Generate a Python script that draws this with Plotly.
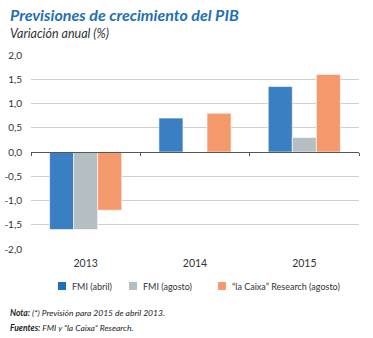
import plotly.graph_objects as go

categories = ["2013", "2014", "2015"]
fmi_abril = [-1.6, 0.7, 1.35]
fmi_agosto = [-1.6, None, 0.3]
caixa_agosto = [-1.2, 0.8, 1.6]
series_names = ["FMI (abril)", "FMI (agosto)", "“la Caixa” Research (agosto)"]
tick_vals = [2.0, 1.5, 1.0, 0.5, 0.0, -0.5, -1.0, -1.5, -2.0]
tick_text = ["2,0", "1,5", "1,0", "0,5", "0,0", "-0,5", "-1,0", "-1,5", "-2,0"]

colors = ["#3a7fc1", "#b4bfc4", "#f4996b"]
legend_colors = ["#1f6fbb", "#b4bfc4", "#f4996b"]
W, H = 373, 338
ml, mr, mt, mb = 31, 14, 55, 89
pw, ph = W - ml - mr, H - mt - mb

fig = go.Figure()
for name, vals, c in zip(series_names, [fmi_abril, fmi_agosto, caixa_agosto], colors):
    fig.add_trace(go.Bar(x=categories, y=vals, name=name, marker_color=c,
                         marker_line=dict(color="white", width=0.6), showlegend=False))

# axis line with boundary ticks at zero
fig.add_trace(go.Scatter(x=[-0.5, len(categories) - 0.5], y=[0, 0], xaxis="x2",
                         mode="lines", line=dict(color="rgba(0,0,0,0)"),
                         showlegend=False, hoverinfo="skip"))

def px_x(p):
    return (p - ml) / pw

def px_y(p):
    return (H - mb - p) / ph

fig.update_layout(
    width=W, height=H,
    margin=dict(l=ml, r=mr, t=mt, b=mb, autoexpand=False),
    paper_bgcolor="white", plot_bgcolor="white",
    barmode="group", bargap=0.34, bargroupgap=0,
    font=dict(family="Lato, 'Open Sans', sans-serif", color="#333333", size=10),
    xaxis=dict(type="category", showgrid=False, showline=False, ticks="", automargin=False,
               tickfont=dict(size=10.5, color="#333333"), ticklabelstandoff=6),
    xaxis2=dict(overlaying="x", anchor="free", position=0.5, range=[-0.5, len(categories) - 0.5],
                tickvals=[i - 0.5 for i in range(len(categories) + 1)], automargin=False,
                showticklabels=False, ticks="outside", ticklen=3, tickcolor="#555555",
                showline=True, linecolor="#555555", linewidth=1, showgrid=False, zeroline=False),
    yaxis=dict(range=[-2, 2], tickvals=tick_vals, ticktext=tick_text, showgrid=True,
               gridcolor="#cfcfcf", gridwidth=1, zeroline=False, automargin=False,
               tickfont=dict(size=10, color="#333333"), ticklabelstandoff=8),
    showlegend=False,
)

# manual legend (swatch + label)
legend_x = [58, 129, 218]
for lx, name, c in zip(legend_x, series_names, legend_colors):
    fig.add_shape(type="rect", xref="paper", yref="paper",
                  x0=px_x(lx), x1=px_x(lx + 8), y0=px_y(290), y1=px_y(282),
                  fillcolor=c, line=dict(width=0))
    fig.add_annotation(text=name, xref="paper", yref="paper", x=px_x(lx + 12), y=px_y(286),
                       xanchor="left", yanchor="middle", showarrow=False,
                       font=dict(size=9, color="#333333"))

fig.add_annotation(text="<b><i>Previsiones de crecimiento del PIB</i></b>", xref="paper", yref="paper",
                   x=px_x(8), y=px_y(14), xanchor="left", yanchor="middle", showarrow=False,
                   font=dict(size=16, color="#1f6fb5", family="Lato, sans-serif"))
fig.add_annotation(text="<i>Variación anual (%)</i>", xref="paper", yref="paper",
                   x=px_x(8), y=px_y(34), xanchor="left", yanchor="middle", showarrow=False,
                   font=dict(size=12.5, color="#333333", family="Lato, sans-serif"))
note_font = dict(size=8.5, color="#222222", family="Lato, sans-serif")
fig.add_annotation(text="<b><i>Nota:</i></b><i> (*) Previsión para 2015 de abril 2013.</i>", xref="paper", yref="paper",
                   x=px_x(8), y=px_y(313), xanchor="left", yanchor="middle", showarrow=False, font=note_font)
fig.add_annotation(text="<b><i>Fuentes:</i></b><i> FMI y “la Caixa” Research.</i>", xref="paper", yref="paper",
                   x=px_x(8), y=px_y(328), xanchor="left", yanchor="middle", showarrow=False, font=note_font)

fig.write_html("out.html")
